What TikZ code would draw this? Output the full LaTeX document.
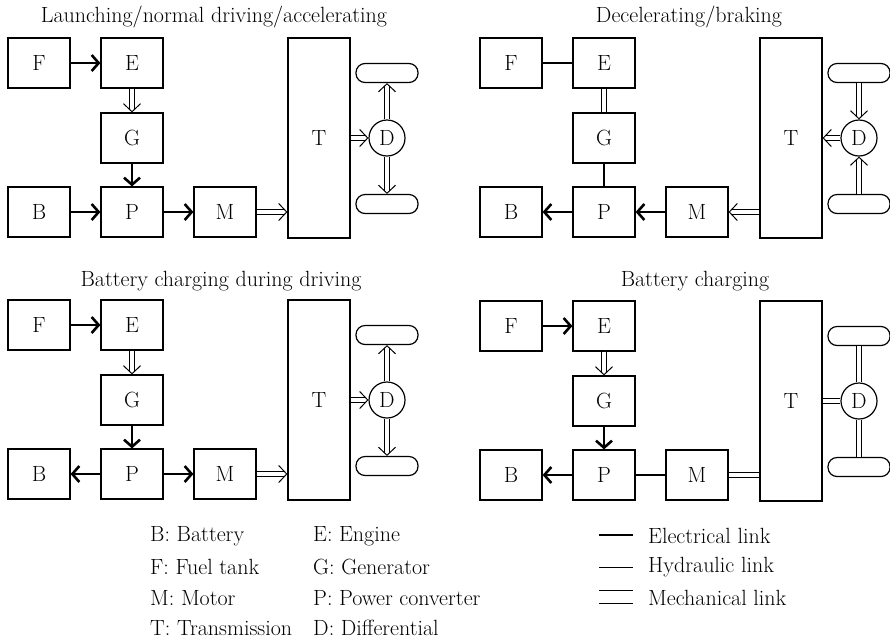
\documentclass[tikz,border=0pt]{standalone}
\usetikzlibrary{arrows.meta}
\newcommand\hevfs{\fontsize{22}{24}\selectfont}
\tikzset{
  blk/.style={draw, line width=1.2pt, minimum width=62pt, minimum height=50pt, inner sep=0pt, font=\hevfs},
  tbox/.style={draw, line width=1.2pt, minimum width=62pt, minimum height=200pt, inner sep=0pt, font=\hevfs},
  dcirc/.style={draw, circle, line width=1.2pt, minimum size=36pt, inner sep=0pt, font=\hevfs},
  wheel/.style={draw, line width=1.2pt, rounded corners=9pt, minimum width=62pt, minimum height=19pt, inner sep=0pt},
  ttl/.style={font=\hevfs, inner sep=0pt},
  lgd/.style={font=\hevfs, anchor=west, inner sep=0pt},
  eline/.style={line width=2.6pt},
  earr/.style={eline, -{Straight Barb[length=7pt,width=16pt]}},
  mline/.style={double, double distance=4.6pt, line width=1pt},
  mshaft/.style={mline, shorten >=3pt},
  mtip/.style={draw=white, line width=1pt, -{Straight Barb[length=8pt,width=17pt,color=black]}},
}
\newcommand\hevmarrow[2]{\draw[mshaft] (#1) -- (#2); \draw[mtip] (#1) -- (#2);}
\newcommand\hevpanel[3]{%
  \begin{scope}[shift={(#2,#3)}]
    \node[blk] (#1F) at (39,63) {F};
    \node[blk] (#1E) at (132,63) {E};
    \node[blk] (#1G) at (132,138) {G};
    \node[blk] (#1B) at (39,212) {B};
    \node[blk] (#1P) at (132,212) {P};
    \node[blk] (#1M) at (225,212) {M};
    \node[tbox] (#1T) at (319,138) {T};
    \node[dcirc] (#1D) at (387,138) {D};
    \node[wheel] (#1W) at (387,73) {};
    \node[wheel] (#1V) at (387,204) {};
  \end{scope}}
\begin{document}
\begin{tikzpicture}[x=1pt,y=-1pt]
\useasboundingbox (0,0) rectangle (890,641);
\hevpanel{a}{0}{0}
\hevpanel{b}{472}{0}
\hevpanel{c}{0}{262}
\hevpanel{d}{472}{263}
\node[ttl] (ta) at (214,17) {Launching/normal driving/accelerating};
\node[ttl] (tb) at (689,17) {Decelerating/braking};
\node[ttl] (tc) at (221,281) {Battery charging during driving};
\node[ttl] (td) at (695,281) {Battery charging};
% panel a
\draw[earr] (aF) -- (aE);
\hevmarrow{aE}{aG}
\draw[earr] (aG) -- (aP);
\draw[earr] (aB) -- (aP);
\draw[earr] (aP) -- (aM);
\hevmarrow{aM}{aM -| aT.west}
\hevmarrow{aT}{aD}
\hevmarrow{aD}{aW}
\hevmarrow{aD}{aV}
% panel b
\draw[eline] (bF) -- (bE);
\draw[mline] (bE) -- (bG);
\draw[eline] (bG) -- (bP);
\draw[earr] (bP) -- (bB);
\draw[earr] (bM) -- (bP);
\hevmarrow{bM -| bT.west}{bM}
\hevmarrow{bD}{bT}
\hevmarrow{bW}{bD}
\hevmarrow{bV}{bD}
% panel c
\draw[earr] (cF) -- (cE);
\hevmarrow{cE}{cG}
\draw[earr] (cG) -- (cP);
\draw[earr] (cP) -- (cB);
\draw[earr] (cP) -- (cM);
\hevmarrow{cM}{cM -| cT.west}
\hevmarrow{cT}{cD}
\hevmarrow{cD}{cW}
\hevmarrow{cD}{cV}
% panel d
\draw[earr] (dF) -- (dE);
\hevmarrow{dE}{dG}
\draw[earr] (dG) -- (dP);
\draw[earr] (dP) -- (dB);
\draw[eline] (dP) -- (dM);
\draw[mline] (dM) -- (dM -| dT.west);
\draw[mline] (dT) -- (dD);
\draw[mline] (dD) -- (dW);
\draw[mline] (dD) -- (dV);
% legend
\node[lgd] (l1) at (150,536) {B: Battery};
\node[lgd] (l2) at (150,567) {F: Fuel tank};
\node[lgd] (l3) at (150,598) {M: Motor};
\node[lgd] (l4) at (150,628) {T: Transmission};
\node[lgd] (l5) at (313,536) {E: Engine};
\node[lgd] (l6) at (313,567) {G: Generator};
\node[lgd] (l7) at (313,598) {P: Power converter};
\node[lgd] (l8) at (313,628) {D: Differential};
\node[lgd] (l9) at (648,536) {Electrical link};
\node[lgd] (l10) at (648,567) {Hydraulic link};
\node[lgd] (l11) at (648,598) {Mechanical link};
\coordinate (s1a) at (599,535); \coordinate (s1b) at (633,535);
\coordinate (s2a) at (599,567); \coordinate (s2b) at (633,567);
\coordinate (s3a) at (599,590); \coordinate (s3b) at (633,590);
\coordinate (s4a) at (599,603); \coordinate (s4b) at (633,603);
\draw[eline] (s1a) -- (s1b);
\draw[line width=1pt] (s2a) -- (s2b);
\draw[line width=1pt] (s3a) -- (s3b);
\draw[line width=1pt] (s4a) -- (s4b);
\end{tikzpicture}
\end{document}
